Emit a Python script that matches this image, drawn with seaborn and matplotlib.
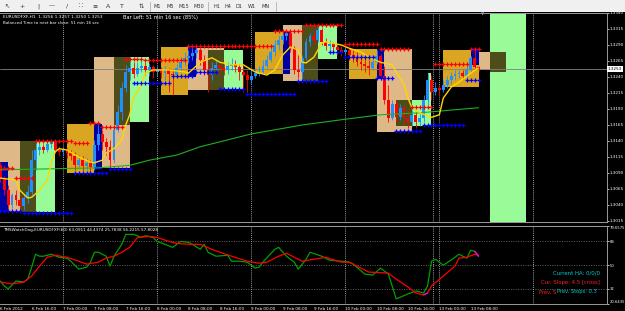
import numpy as np
import pandas as pd
import matplotlib
matplotlib.use("Agg")
import matplotlib.pyplot as plt
import seaborn as sns
from matplotlib.patches import Rectangle

sns.set_theme(style="dark")
plt.rcParams['font.family'] = ['DejaVu Sans']

# ---------------- data ----------------
opens = [1.3102, 1.3082, 1.3063, 1.3040, 1.3056, 1.3048, 1.3038, 1.3051, 1.3060, 1.3110,
         1.3126, 1.3131, 1.3126, 1.3135, 1.3138, 1.3126, 1.3123, 1.3126, 1.3121, 1.3117,
         1.3102, 1.3110, 1.3101, 1.3106, 1.3099, 1.3134, 1.3151, 1.3138, 1.3131, 1.3110,
         1.3157, 1.3185, 1.3223, 1.3248, 1.3254, 1.3245, 1.3254, 1.3257, 1.3251, 1.3256,
         1.3248, 1.3251, 1.3246, 1.3251, 1.3245, 1.3243, 1.3254, 1.3263, 1.3270, 1.3273,
         1.3277, 1.3282, 1.3267, 1.3251, 1.3243, 1.3254, 1.3259, 1.3254, 1.3251, 1.3257,
         1.3260, 1.3256, 1.3248, 1.3243, 1.3235, 1.3242, 1.3246, 1.3248, 1.3257, 1.3267,
         1.3279, 1.3290, 1.3298, 1.3304, 1.3309, 1.3285, 1.3251, 1.3248, 1.3270, 1.3295,
         1.3304, 1.3298, 1.3313, 1.3295, 1.3288, 1.3292, 1.3287, 1.3282, 1.3279, 1.3282,
         1.3274, 1.3271, 1.3263, 1.3260, 1.3257, 1.3254, 1.3263, 1.3273, 1.3242, 1.3204,
         1.3176, 1.3198, 1.3177, 1.3192, 1.3176, 1.3170, 1.3181, 1.3170, 1.3176, 1.3204,
         1.3235, 1.3217, 1.3223, 1.3220, 1.3228, 1.3235, 1.3242, 1.3245, 1.3246, 1.3242,
         1.3251, 1.3270, 1.3256]
highs = [1.3107, 1.3085, 1.3071, 1.3059, 1.3063, 1.3054, 1.3056, 1.3071, 1.3126, 1.3140,
         1.3138, 1.3135, 1.3140, 1.3140, 1.3140, 1.3132, 1.3131, 1.3129, 1.3126, 1.3123,
         1.3118, 1.3117, 1.3113, 1.3110, 1.3142, 1.3167, 1.3157, 1.3145, 1.3142, 1.3165,
         1.3196, 1.3232, 1.3259, 1.3267, 1.3263, 1.3263, 1.3271, 1.3263, 1.3262, 1.3259,
         1.3257, 1.3256, 1.3257, 1.3254, 1.3251, 1.3260, 1.3271, 1.3279, 1.3282, 1.3285,
         1.3287, 1.3285, 1.3274, 1.3263, 1.3263, 1.3267, 1.3263, 1.3260, 1.3263, 1.3270,
         1.3267, 1.3260, 1.3257, 1.3251, 1.3251, 1.3254, 1.3257, 1.3267, 1.3274, 1.3290,
         1.3298, 1.3306, 1.3310, 1.3313, 1.3310, 1.3288, 1.3274, 1.3274, 1.3301, 1.3309,
         1.3313, 1.3321, 1.3317, 1.3301, 1.3298, 1.3295, 1.3292, 1.3288, 1.3288, 1.3285,
         1.3282, 1.3279, 1.3274, 1.3270, 1.3267, 1.3271, 1.3282, 1.3276, 1.3257, 1.3228,
         1.3204, 1.3204, 1.3198, 1.3196, 1.3188, 1.3188, 1.3185, 1.3182, 1.3212, 1.3246,
         1.3243, 1.3232, 1.3228, 1.3235, 1.3242, 1.3248, 1.3251, 1.3251, 1.3251, 1.3257,
         1.3273, 1.3282, 1.3257]
lows = [1.3076, 1.3056, 1.3029, 1.3035, 1.3040, 1.3029, 1.3032, 1.3043, 1.3056, 1.3095,
        1.3118, 1.3121, 1.3123, 1.3129, 1.3121, 1.3117, 1.3117, 1.3113, 1.3110, 1.3095,
        1.3099, 1.3093, 1.3095, 1.3090, 1.3095, 1.3126, 1.3126, 1.3118, 1.3098, 1.3106,
        1.3154, 1.3173, 1.3217, 1.3235, 1.3238, 1.3242, 1.3248, 1.3243, 1.3242, 1.3238,
        1.3242, 1.3238, 1.3235, 1.3217, 1.3212, 1.3238, 1.3248, 1.3257, 1.3262, 1.3267,
        1.3270, 1.3259, 1.3243, 1.3217, 1.3235, 1.3248, 1.3248, 1.3243, 1.3245, 1.3251,
        1.3248, 1.3235, 1.3217, 1.3212, 1.3229, 1.3238, 1.3242, 1.3245, 1.3254, 1.3263,
        1.3273, 1.3282, 1.3292, 1.3298, 1.3279, 1.3245, 1.3238, 1.3235, 1.3267, 1.3288,
        1.3292, 1.3295, 1.3290, 1.3282, 1.3282, 1.3279, 1.3274, 1.3273, 1.3273, 1.3267,
        1.3263, 1.3257, 1.3251, 1.3248, 1.3243, 1.3251, 1.3260, 1.3235, 1.3198, 1.3170,
        1.3173, 1.3170, 1.3173, 1.3167, 1.3160, 1.3163, 1.3160, 1.3163, 1.3170, 1.3196,
        1.3204, 1.3212, 1.3212, 1.3217, 1.3223, 1.3229, 1.3235, 1.3238, 1.3237, 1.3238,
        1.3248, 1.3254, 1.3250]
closes = [1.3082, 1.3063, 1.3040, 1.3056, 1.3048, 1.3038, 1.3051, 1.3060, 1.3110, 1.3126,
          1.3131, 1.3126, 1.3135, 1.3138, 1.3126, 1.3123, 1.3126, 1.3121, 1.3117, 1.3102,
          1.3110, 1.3101, 1.3106, 1.3099, 1.3134, 1.3151, 1.3138, 1.3131, 1.3110, 1.3157,
          1.3185, 1.3223, 1.3248, 1.3254, 1.3245, 1.3254, 1.3257, 1.3251, 1.3256, 1.3248,
          1.3251, 1.3246, 1.3251, 1.3245, 1.3243, 1.3254, 1.3263, 1.3270, 1.3273, 1.3277,
          1.3282, 1.3267, 1.3251, 1.3243, 1.3254, 1.3259, 1.3254, 1.3251, 1.3257, 1.3260,
          1.3256, 1.3248, 1.3243, 1.3235, 1.3242, 1.3246, 1.3248, 1.3257, 1.3267, 1.3279,
          1.3290, 1.3298, 1.3304, 1.3309, 1.3285, 1.3251, 1.3248, 1.3270, 1.3295, 1.3304,
          1.3298, 1.3313, 1.3295, 1.3288, 1.3292, 1.3287, 1.3282, 1.3279, 1.3282, 1.3274,
          1.3271, 1.3263, 1.3260, 1.3257, 1.3254, 1.3263, 1.3273, 1.3242, 1.3204, 1.3176,
          1.3198, 1.3177, 1.3192, 1.3176, 1.3170, 1.3181, 1.3170, 1.3176, 1.3204, 1.3235,
          1.3217, 1.3223, 1.3220, 1.3228, 1.3235, 1.3242, 1.3245, 1.3246, 1.3242, 1.3251,
          1.3270, 1.3256, 1.3253]

# smoothed moving average (yellow)
ma_fast_bars = [0, 4, 5, 7, 8, 10, 12, 13, 14, 15, 17, 20, 23, 24, 26, 27, 29, 31, 32, 33,
                34, 36, 37, 39, 43, 47, 48, 51, 54, 56, 59, 62, 65, 68, 70, 72, 74, 76, 77, 78,
                80, 82, 83, 87, 89, 92, 94, 97, 100, 101, 103, 104, 105, 107, 110, 112, 113, 115,
                117, 120, 122]
ma_fast_vals = [1.3082, 1.3079, 1.3063, 1.3051, 1.3052, 1.3063, 1.3079, 1.3106, 1.3123, 1.3128,
                1.3126, 1.3115, 1.3107, 1.3106, 1.3110, 1.3121, 1.3128, 1.3142, 1.3165, 1.3181,
                1.3207, 1.3228, 1.3246, 1.3251, 1.3251, 1.3248, 1.3246, 1.3263, 1.3270, 1.3263,
                1.3259, 1.3259, 1.3248, 1.3243, 1.3251, 1.3274, 1.3287, 1.3282, 1.3263, 1.3262,
                1.3271, 1.3293, 1.3295, 1.3290, 1.3285, 1.3279, 1.3271, 1.3263, 1.3259, 1.3248,
                1.3228, 1.3207, 1.3192, 1.3184, 1.3177, 1.3181, 1.3207, 1.3224, 1.3232, 1.3246,
                1.3254]
# long moving average (green)
ma_slow_bars = [0, 25, 33, 38, 45, 51, 64, 77, 88, 97, 107, 122]
ma_slow_vals = [1.3095, 1.3098, 1.3102, 1.3110, 1.3118, 1.3131, 1.3151, 1.3165, 1.3174, 1.3181,
                1.3184, 1.3192]

# session boxes
box_kind = ['London', 'PreLondon', 'Overlap', 'NewYork',
            'Asia', 'London', 'PreLondon', 'Overlap', 'NewYork',
            'Asia', 'London', 'PreLondon', 'Overlap', 'NewYork',
            'Asia', 'London', 'PreLondon', 'Overlap', 'NewYork',
            'Asia', 'London', 'PreLondon', 'Overlap', 'NewYork', 'NewYork',
            'Asia', 'PreLondon', 'London', 'NewYork', 'Overlap']
box_start = [0, 0, 5, 9, 17, 24, 24, 29, 33, 41, 48, 48, 53, 57, 65, 72, 72, 77, 81,
             89, 96, 96, 101, 105, 109, 113, 120, 122, 125, 125]
box_end = [9, 2, 9, 14, 24, 33, 26, 33, 38, 48, 57, 50, 57, 62, 72, 81, 74, 81, 86,
           96, 105, 98, 105, 109, 110, 122, 122, 125, 134, 129]
box_high = [1.3140, 1.3107, 1.3140, 1.3140,
            1.3167, 1.3271, 1.3167, 1.3271, 1.3271,
            1.3287, 1.3285, 1.3287, 1.3282, 1.3282,
            1.3310, 1.3321, 1.3310, 1.3321, 1.3321,
            1.3284, 1.3284, 1.3284, 1.3204, 1.3204, 1.3246,
            1.3282, 1.3285, 1.3279, 1.3345, 1.3279]
box_low = [1.3029, 1.3029, 1.3029, 1.3029,
           1.3090, 1.3098, 1.3095, 1.3165, 1.3170,
           1.3212, 1.3220, 1.3240, 1.3220, 1.3221,
           1.3245, 1.3234, 1.3245, 1.3234, 1.3268,
           1.3237, 1.3154, 1.3237, 1.3163, 1.3163, 1.3163,
           1.3224, 1.3259, 1.3251, 1.3010, 1.3248]

# resistance (red +) and support (blue +) segments
res_start = [1, 4, 9, 19, 23, 26, 32, 37, 48, 70, 78, 88, 97, 105, 111, 120]
res_end = [3, 8, 18, 22, 25, 31, 36, 47, 69, 77, 87, 96, 104, 110, 119, 122]
res_level = [1.3098, 1.3082, 1.3140, 1.3137, 1.3168, 1.3162, 1.3268, 1.3267, 1.3288, 1.3312,
             1.3321, 1.3292, 1.3284, 1.3193, 1.3260, 1.3284]
sup_start = [0, 6, 19, 28, 34, 44, 50, 56, 63, 76, 84, 88, 96, 101, 108, 119]
sup_end = [5, 18, 27, 33, 43, 49, 55, 62, 75, 83, 87, 95, 100, 107, 118, 122]
sup_level = [1.3031, 1.3028, 1.3090, 1.3096, 1.3231, 1.3242, 1.3248, 1.3221, 1.3213, 1.3234,
             1.3279, 1.3271, 1.3238, 1.3156, 1.3165, 1.3235]

current_price = 1.3253
day_separators = [16, 40, 64, 88, 110.4, 112, 136]

# TMSWatchDog indicator
wd_fast_bars = [0, 1, 2, 4, 6, 7, 8, 9, 10, 11, 13, 15, 17, 18, 20, 22, 23, 24, 25, 27,
                28, 29, 31, 32, 34, 36, 37, 39, 40, 42, 44, 46, 48, 49, 51, 52, 53, 55, 58, 59,
                61, 63, 65, 66, 67, 70, 71, 73, 75, 76, 78, 79, 82, 84, 87, 89, 90, 93, 95, 97,
                99, 101, 104, 106, 108, 109, 110, 111, 113, 116, 117, 119, 120, 121, 122]
wd_fast_vals = [38.0, 34.3, 32.0, 38.0, 37.3, 39.5, 48.5, 58.3, 56.8, 56.8,
                58.3, 56.0, 55.3, 53.0, 47.0, 48.5, 52.3, 59.8, 59.8, 56.8,
                49.3, 56.8, 65.8, 73.3, 73.3, 71.0, 72.3, 71.0, 68.0, 65.8,
                63.5, 68.0, 67.3, 65.8, 62.0, 65.8, 59.8, 56.8, 57.5, 53.0,
                53.0, 52.3, 47.8, 48.5, 52.3, 62.0, 63.5, 56.8, 52.3, 47.0,
                54.5, 59.8, 56.8, 53.8, 53.0, 52.3, 50.8, 43.3, 42.5, 47.8,
                43.3, 24.5, 28.3, 30.5, 29.0, 34.3, 53.0, 54.5, 50.0, 56.0,
                58.3, 55.3, 61.3, 60.5, 56.8]
wd_slow_bars = [0, 3, 6, 8, 10, 12, 14, 17, 20, 22, 25, 27, 29, 31, 33, 35, 38, 40, 43, 45,
                48, 51, 54, 56, 59, 63, 66, 68, 71, 73, 75, 77, 80, 83, 87, 89, 91, 94, 99, 101,
                104, 106, 108, 109, 110, 113, 116, 117, 119, 121, 122]
wd_slow_vals = [37.3, 35.8, 37.3, 41.8, 49.3, 56.0, 57.5, 56.0, 53.0, 50.8,
                52.3, 55.3, 56.8, 59.8, 63.5, 71.0, 71.8, 71.0, 68.0, 66.5,
                65.8, 65.8, 62.0, 59.8, 56.8, 53.0, 51.5, 52.3, 56.8, 59.0,
                56.0, 53.0, 54.5, 56.0, 52.3, 52.3, 49.3, 44.8, 44.0, 39.5,
                33.5, 29.0, 27.5, 29.0, 34.3, 41.8, 49.3, 55.3, 56.0, 58.3,
                57.5]
wd_levels = [32, 50, 68]
wd_min, wd_max = 20.6435, 79.6575

time_tick_bars = [0, 8, 16, 24, 32, 40, 48, 56, 64, 72, 80, 88, 96, 104, 112, 120]
time_tick_labels = ['6 Feb 2012', '6 Feb 16:00', '7 Feb 00:00', '7 Feb 08:00', '7 Feb 16:00',
                    '8 Feb 00:00', '8 Feb 08:00', '8 Feb 16:00', '9 Feb 00:00', '9 Feb 08:00',
                    '9 Feb 16:00', '10 Feb 00:00', '10 Feb 08:00', '10 Feb 16:00',
                    '13 Feb 00:00', '13 Feb 08:00']
price_ticks = [1.3015, 1.3040, 1.3065, 1.3090, 1.3115, 1.3140, 1.3165, 1.3190, 1.3215,
               1.3240, 1.3265, 1.3290, 1.3315, 1.3340]
toolbar_frames = ['M1', 'M5', 'M15', 'M30', 'H1', 'H4', 'D1', 'W1', 'MN']

# ---------------- styling ----------------
box_colors = {'Asia': '#DAA520', 'PreLondon': '#0000A0', 'London': '#DEB887',
              'Overlap': '#4D4D1A', 'NewYork': '#98FB98'}
BULL, BEAR = '#1E90FF', '#FF0000'
GRID_C = '#9A9A9A'

W, H = 625, 311
fig = plt.figure(figsize=(W / 100, H / 100), dpi=100, facecolor='black')


def px_axes(l, t, r, b):
    return fig.add_axes([l / W, 1 - b / H, (r - l) / W, (b - t) / H])


def ftext(x, y, s, **kw):
    return fig.text(x / W, 1 - y / H, s, **kw)


# toolbar
tb = px_axes(0, 0, 625, 12)
tb.set_facecolor('#F0F0F0')
tb.set_xlim(0, 625)
tb.set_ylim(12, 0)
tb.set_xticks([])
tb.set_yticks([])
for s in tb.spines.values():
    s.set_visible(False)
tb_icons = [(7, '\u2196'), (22, '+'), (38, '|'), (52, '\u2014'), (67, '/'),
            (81, '\u2237'), (95, '\u2261'), (108, 'A'), (122, 'T'), (141, '\u21c5')]
for x, g in tb_icons:
    tb.text(x, 6.2, g, ha='center', va='center', fontsize=4.5, color='#333333')
tb_x = [157, 170, 184, 199, 217, 228, 239, 252, 266]
for x, lab in zip(tb_x, toolbar_frames):
    tb.text(x, 6.2, lab, ha='center', va='center', fontsize=3.6, color='#333333')
for x in [150, 208, 276]:
    tb.plot([x, x], [1.5, 10.5], color='#B0B0B0', lw=0.6)

# main price axes
ax = px_axes(0, 13, 607, 222)
ax.set_facecolor('black')
x0, x1 = -0.3 / 3.92, (607 - 0.3) / 3.92
ax.set_xlim(x0, x1)
ax.set_ylim(1.3340 - 209 / 6400, 1.3340)

for k, s, e, hi, lo in zip(box_kind, box_start, box_end, box_high, box_low):
    ax.add_patch(Rectangle((s, lo), e - s, hi - lo, facecolor=box_colors[k],
                           edgecolor='none', zorder=1))

for d in day_separators:
    ax.axvline(d, color='#D0D0D0', lw=0.6, ls=(0, (1, 1.5)), zorder=1.5)
ax.axhline(current_price, color='#808080', lw=0.6, zorder=1.6)

bars = np.arange(len(closes))
o = np.array(opens); c = np.array(closes)
cols = [BULL if cc >= oo else BEAR for oo, cc in zip(o, c)]
ax.vlines(bars, lows, highs, colors=cols, lw=0.6, zorder=3)
body_h = np.maximum(np.abs(c - o), 0.00004)
ax.bar(bars, body_h, bottom=np.minimum(o, c), width=0.72, color=cols, linewidth=0, zorder=3)

sns.lineplot(x=ma_slow_bars, y=ma_slow_vals, ax=ax, color='#1FB01F', lw=0.8, zorder=4)
sns.lineplot(x=ma_fast_bars, y=ma_fast_vals, ax=ax, color='#FFD700', lw=1.0, zorder=4)

res_pts = pd.DataFrame([(b, lv) for s, e, lv in zip(res_start, res_end, res_level)
                        for b in range(s, e + 1)], columns=['bar', 'price'])
sup_pts = pd.DataFrame([(b, lv) for s, e, lv in zip(sup_start, sup_end, sup_level)
                        for b in range(s, e + 1)], columns=['bar', 'price'])
ax.plot(res_pts['bar'], res_pts['price'], ls='none', marker='+', ms=2.6, mew=0.9,
        color='#FF0000', zorder=5)
ax.plot(sup_pts['bar'], sup_pts['price'], ls='none', marker='+', ms=2.6, mew=0.9,
        color='#0000FF', zorder=5)

ax.set_xticks([])
ax.yaxis.tick_right()
ax.set_yticks(price_ticks)
ax.set_yticklabels([f'{v:.4f}' for v in price_ticks])
ax.tick_params(axis='y', colors='white', labelsize=3.0, length=1.5, width=0.5, pad=0.4)
ax.set_xlabel('')
ax.set_ylabel('')
for name, sp in ax.spines.items():
    sp.set_color(GRID_C)
    sp.set_linewidth(0.7)
ax.spines['left'].set_visible(False)

# indicator axes
axi = px_axes(0, 226, 607, 304)
axi.set_facecolor('black')
axi.set_xlim(x0, x1)
axi.set_ylim(wd_min, wd_max)
for lv in wd_levels:
    axi.axhline(lv, color='#808080', lw=0.5, ls=(0, (1.5, 2)), zorder=1)
for d in day_separators:
    axi.axvline(d, color='#D0D0D0', lw=0.6, ls=(0, (1, 1.5)), zorder=1.5)
sns.lineplot(x=wd_fast_bars, y=wd_fast_vals, ax=axi, color='#00A000', lw=0.9, zorder=3)
sns.lineplot(x=wd_slow_bars, y=wd_slow_vals, ax=axi, color='#FF0000', lw=0.9, zorder=4)
axi.plot(wd_fast_bars[-2:], wd_fast_vals[-2:], color='#FF00FF', lw=0.9, zorder=5)
axi.plot(wd_slow_bars[42:44], wd_slow_vals[42:44], color='#FF00FF', lw=0.9, zorder=5)

axi.yaxis.tick_right()
yt = [wd_min, 32, 50, 68, wd_max]
axi.set_yticks(yt)
axi.set_yticklabels(['20.6435', '32', '50', '68', '79.6575'])
axi.tick_params(axis='y', colors='white', labelsize=2.7, length=1.5, width=0.5, pad=0.4)
labs = axi.get_yticklabels()
labs[0].set_va('bottom')
labs[-1].set_va('top')
axi.set_xticks(time_tick_bars)
axi.set_xticklabels(time_tick_labels, ha='left')
axi.tick_params(axis='x', colors='white', labelsize=3.0, length=2, width=0.5, pad=0.5)
axi.set_xlabel('')
axi.set_ylabel('')
for name, sp in axi.spines.items():
    sp.set_color(GRID_C)
    sp.set_linewidth(0.7)
axi.spines['left'].set_visible(False)

# texts
ftext(3, 14.5, 'EURUSDFXF,H1  1.3256 1.3257 1.3250 1.3253', fontsize=3.1, color='white', va='top')
ftext(3, 20.5, 'Balanced Time to next bar close: 51 min 16 sec', fontsize=2.9, color='white', va='top')
ftext(123, 14.5, 'Bar Left: 51 min 16 sec (85%)', fontsize=3.6, color='white', va='top')
ftext(3, 228, 'TMSWatchDog-EURUSDFXF(60) 63.0911 44.4374 25.7838 56.2215 57.8028',
      fontsize=2.95, color='white', va='top')
ftext(600, 273, 'Current HA: 0/0/0', fontsize=3.9, color='#00CED1', ha='right', va='center')
ftext(600, 282.5, 'Cur. Slope: 4.5 [cross]', fontsize=3.9, color='#FF2020', ha='right', va='center')
ftext(539, 292, 'Prev. S', fontsize=3.7, color='#FF2020', ha='left', va='center')
ftext(557, 292, 'Prev. Stops: 0.3', fontsize=3.7, color='#00CED1', ha='left', va='center')
ftext(608, 69, f'{current_price:.4f}', fontsize=3.0, color='black', ha='left', va='center',
      bbox=dict(facecolor='white', edgecolor='none', pad=0.4))
ftext(483, 14, '\u25bc', fontsize=3, color='#A0A0A0', ha='center', va='center')

fig.savefig('out.png', dpi=100, facecolor='black')
